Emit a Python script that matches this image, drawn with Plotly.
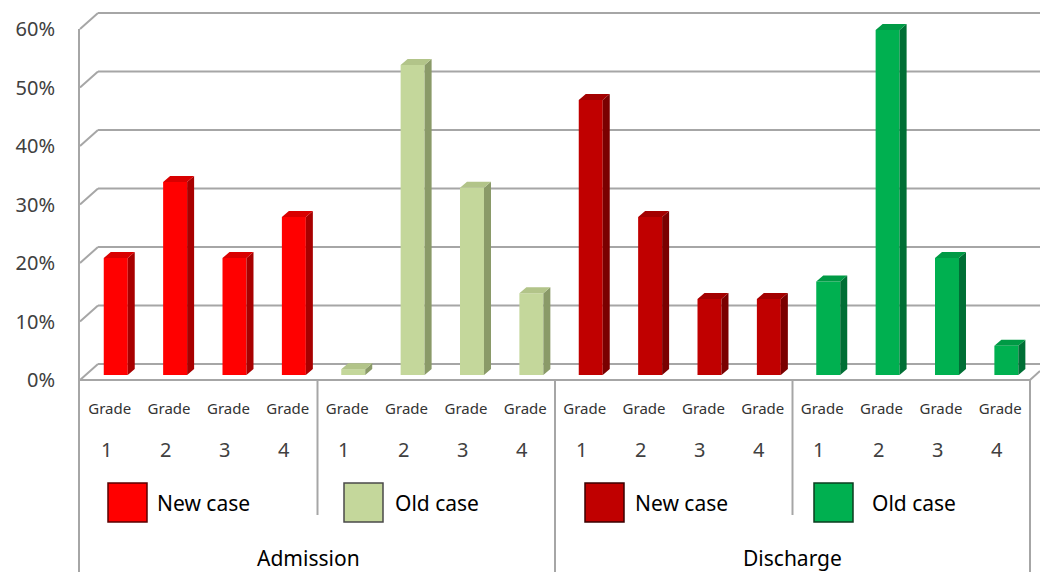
import plotly.graph_objects as go

# ---------------- data ----------------
grade_labels = ["1", "2", "3", "4"]
group_labels = ["Admission", "Discharge"]
series_names = ["New case", "Old case", "New case", "Old case"]
adm_new = [20, 33, 20, 27]
adm_old = [1, 53, 32, 14]
dis_new = [47, 27, 13, 13]
dis_old = [16, 59, 20, 5]
y_ticks = [0, 10, 20, 30, 40, 50, 60]
y_tick_text = ["0%", "10%", "20%", "30%", "40%", "50%", "60%"]

series_values = [adm_new, adm_old, dis_new, dis_old]

# ---------------- style ----------------
W, H = 1040, 572
ML, MT, MB = 80, 8, 190
PLOT_W = W - ML
PLOT_H = H - MT - MB
PX_X = 59.375           # px per category slot
PX_Y = 5.85             # px per percent
Y0_PX = 380             # pixel of 0% (front)
X_MIN = -0.5
X_MAX = X_MIN + PLOT_W / PX_X
Y_MIN = -(H - MB - Y0_PX) / PX_Y
Y_MAX = Y_MIN + PLOT_H / PX_Y

WALL_DX, WALL_DY = 18, 16       # px depth of the walls
BAR_DX, BAR_DY = 7, 6           # px depth of a bar
BAR_BASE = 0.85                 # front face lifted slightly from the floor front
BAR_W = 0.404
BAR_OFF = -0.10

front_cols = ["#FF0000", "#C4D79B", "#C00000", "#00B050"]
top_cols = ["#D90000", "#B2C489", "#A30000", "#009A45"]
side_cols = ["#A80000", "#8A9A68", "#7A0000", "#006F35"]
edge_cols = ["#5A0000", "#4A4A4A", "#3A0000", "#0B3D1F"]
GRID = "#A6A6A6"
FONT = "Noto Sans"


def px_x(v):
    return ML + (v - X_MIN) * PX_X


def px_y(v):
    return Y0_PX - v * PX_Y


def pap_x(p):
    return (p - ML) / PLOT_W


def pap_y(p):
    return (H - MB - p) / PLOT_H


fig = go.Figure()

# ---------------- bars (front faces + 3D sides/tops) ----------------
bdx = BAR_DX / PX_X
bdy = BAR_DY / PX_Y
for si, vals in enumerate(series_values):
    xs = [si * 4 + i for i in range(len(vals))]
    fig.add_trace(go.Bar(
        x=xs, y=vals, base=[BAR_BASE] * len(vals), width=BAR_W, offset=BAR_OFF,
        marker=dict(color=front_cols[si], line=dict(width=0)),
        name=series_names[si], showlegend=False, hoverinfo="skip"))
    sx, sy, tx, ty = [], [], [], []
    for x, v in zip(xs, vals):
        xl = x + BAR_OFF
        xr = xl + BAR_W
        top = BAR_BASE + v
        sx += [xr, xr + bdx, xr + bdx, xr, xr, None]
        sy += [BAR_BASE, BAR_BASE + bdy, top + bdy, top, BAR_BASE, None]
        tx += [xl, xl + bdx, xr + bdx, xr, xl, None]
        ty += [top, top + bdy, top + bdy, top, top, None]
    fig.add_trace(go.Scatter(x=sx, y=sy, mode="lines", fill="toself",
                             fillcolor=side_cols[si], line=dict(width=0, color=side_cols[si]),
                             showlegend=False, hoverinfo="skip"))
    fig.add_trace(go.Scatter(x=tx, y=ty, mode="lines", fill="toself",
                             fillcolor=top_cols[si], line=dict(width=0, color=top_cols[si]),
                             showlegend=False, hoverinfo="skip"))

# ---------------- walls, gridlines, separators ----------------
shapes = []


def line(x0, y0, x1, y1, color=GRID, width=2):
    shapes.append(dict(type="line", xref="paper", yref="paper",
                       x0=pap_x(x0), y0=pap_y(y0), x1=pap_x(x1), y1=pap_y(y1),
                       line=dict(color=color, width=width), layer="below"))


for t in y_ticks:
    fy = px_y(t)
    line(ML, fy, ML + WALL_DX, fy - WALL_DY)
    line(ML + WALL_DX, fy - WALL_DY, W, fy - WALL_DY)

right_px = px_x(15.5)
line(ML - 1, px_y(y_ticks[-1]), ML - 1, H)
line(ML, Y0_PX, right_px, Y0_PX)
line(right_px, Y0_PX, right_px + 10, Y0_PX - 9)
for b, full in [(3.5, False), (7.5, True), (11.5, False), (15.5, True)]:
    xp = px_x(b)
    line(xp, Y0_PX, xp, H if full else 515)

# legend-like boxes under each group of four
box_left = [108, 344, 585, 814]
text_left = [155, 393, 633, 870]
annotations = []
for si in range(4):
    shapes.append(dict(type="rect", xref="paper", yref="paper",
                       x0=pap_x(box_left[si]), x1=pap_x(box_left[si] + 39),
                       y0=pap_y(522), y1=pap_y(483),
                       fillcolor=front_cols[si], line=dict(color=edge_cols[si], width=1.5)))
    annotations.append(dict(xref="paper", yref="paper", x=pap_x(text_left[si]), y=pap_y(503),
                            text=series_names[si], showarrow=False, xanchor="left",
                            yanchor="middle", font=dict(family=FONT, size=21, color="#000000")))

# grade numbers
for si in range(4):
    for i, g in enumerate(grade_labels):
        annotations.append(dict(xref="x", yref="paper", x=si * 4 + i - 0.06, y=pap_y(449),
                                text=g, showarrow=False, xanchor="center", yanchor="middle",
                                font=dict(family=FONT, size=20, color="#404040")))

# group labels
for gi, g in enumerate(group_labels):
    annotations.append(dict(xref="x", yref="paper", x=gi * 8 + 3.5 - (0.15 if gi == 0 else 0),
                            y=pap_y(558), text=g, showarrow=False, xanchor="center",
                            yanchor="middle", font=dict(family=FONT, size=21, color="#000000")))

fig.update_layout(
    width=W, height=H,
    margin=dict(l=ML, r=0, t=MT, b=MB, pad=0),
    paper_bgcolor="white", plot_bgcolor="white",
    barmode="overlay",
    showlegend=False,
    shapes=shapes,
    annotations=annotations,
    xaxis=dict(range=[X_MIN, X_MAX], tickmode="array", tickvals=list(range(16)),
               ticktext=["Grade"] * 16, showgrid=False, zeroline=False, showline=False,
               ticks="", ticklabelstandoff=16,
               tickfont=dict(family=FONT, size=15, color="#333333"), fixedrange=True),
    yaxis=dict(range=[Y_MIN, Y_MAX], tickmode="array", tickvals=y_ticks,
               ticktext=y_tick_text, showgrid=False, zeroline=False, showline=False,
               ticks="", ticklabelstandoff=24,
               tickfont=dict(family=FONT, size=20, color="#404040"), fixedrange=True),
)

fig.write_html("out.html")
